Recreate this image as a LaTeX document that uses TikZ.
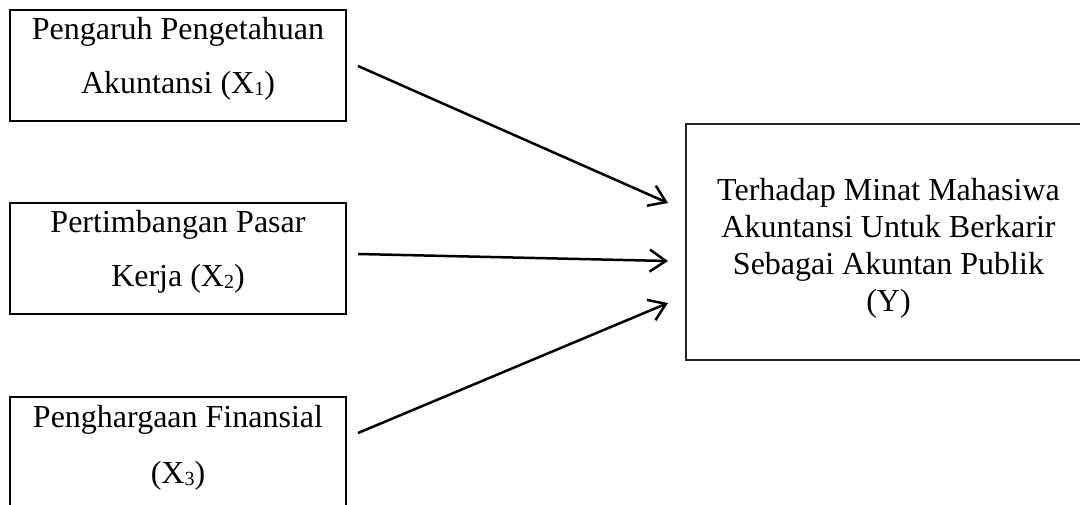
\documentclass[tikz,border=0pt]{standalone}
\usepackage{fontspec}
\setmainfont{Liberation Serif}
\usetikzlibrary{arrows.meta}
\newcommand{\subd}[1]{\raisebox{-2pt}{\fontsize{20}{20}\selectfont #1}}
\begin{document}
\begin{tikzpicture}[x=1pt,y=-1pt,
  box/.style={draw=black, line width=2.5pt, inner sep=0pt, rectangle},
  lbox/.style={box, minimum width=336pt, minimum height=111pt},
  txtl/.style={align=center, inner sep=0pt, font=\fontsize{32}{54}\selectfont},
  txtr/.style={align=center, inner sep=0pt, font=\fontsize{32}{37}\selectfont},
  arr/.style={line width=2.5pt, -{Straight Barb[length=16pt,width=22pt]}}]
\useasboundingbox (0,0) rectangle (1080,504);
\fill[white] (0,0) rectangle (1080,504);
% boxes
\node[lbox] (b1) at (178,65.5) {};
\node[lbox] (b2) at (178,258.5) {};
\node[lbox] (b3) at (178,452.5) {};
\node[box, draw=black!85, line width=1.4pt, minimum width=405pt, minimum height=236pt] (by) at (888.5,242) {};
% texts (base anchor = baseline of last line)
\node[txtl, anchor=base] (t1) at (178,93.5) {Pengaruh Pengetahuan\\Akuntansi (X\subd{1})};
\node[txtl, anchor=base] (t2) at (178,286) {Pertimbangan Pasar\\Kerja (X\subd{2})};
\node[txtl, anchor=base, font=\fontsize{32}{56}\selectfont] (t3) at (178,483) {Penghargaan Finansial\\(X\subd{3})};
\node[txtr, anchor=base] (ty) at (888.5,311) {Terhadap Minat Mahasiwa\\Akuntansi Untuk Berkarir\\Sebagai Akuntan Publik\\(Y)};
% arrows
\coordinate (s1) at (358,66);
\coordinate (s2) at (358,254);
\coordinate (s3) at (358,433);
\coordinate (e1) at (668,203);
\coordinate (e2) at (668,261);
\coordinate (e3) at (668,303);
\draw[arr] (s1) -- (e1);
\draw[arr] (s2) -- (e2);
\draw[arr] (s3) -- (e3);
\end{tikzpicture}
\end{document}
